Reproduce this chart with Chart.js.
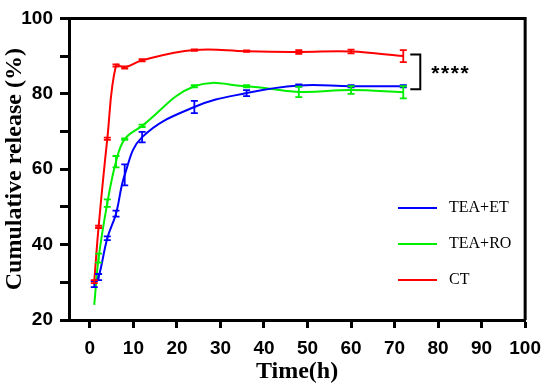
<!DOCTYPE html>
<html>
<head>
<meta charset="utf-8">
<script src="https://cdn.jsdelivr.net/npm/chart.js@4/dist/chart.umd.min.js"></script>
<style>
  html, body { margin: 0; padding: 0; background: #fff; }
</style>
</head>
<body>
<canvas id="releaseChart" width="550" height="386"></canvas>
<script>
const timePoints = [1, 2, 4, 6, 8, 12, 24, 36, 48, 60, 72];

const etRelease = [29.5, 31.4, 41.7, 48.2, 58.5, 68.5, 76.5, 80.2, 82.2, 82.0, 82.0];
const etError   = [0.8, 0.8, 0.5, 0.8, 2.8, 1.4, 1.6, 0.8, 0.3, 0.3, 0.3];

const roRelease = [24.0, 36.4, 51.0, 62.0, 68.0, 71.5, 82.0, 82.0, 80.5, 81.0, 80.4];
const roError   = [0, 1.2, 1.0, 1.5, 0.2, 0.3, 0.3, 0.3, 1.4, 1.0, 1.6];

const ctRelease = [30.2, 44.7, 68.1, 87.5, 87.0, 88.9, 91.6, 91.3, 91.1, 91.2, 90.0];
const ctError   = [0.4, 0.3, 0.3, 0.3, 0.3, 0.3, 0.2, 0.2, 0.5, 0.5, 1.6];

const xTickValues = [0, 10, 20, 30, 40, 50, 60, 70, 80, 90, 100];
const yTickValues = [20, 30, 40, 50, 60, 70, 80, 90, 100];

const tickFont = { family: "Arial, 'Liberation Sans'", size: 19, weight: "bold" };
const titleFont = { family: "'Liberation Serif', 'Times New Roman'", size: 24, weight: "bold" };

function toPoints(values) {
  return values.map((v, i) => ({ x: timePoints[i], y: v }));
}

function makeSeries(label, color, values, errors) {
  return {
    label: label,
    data: toPoints(values),
    errors: errors,
    borderColor: color,
    backgroundColor: color,
    borderWidth: 2,
    pointRadius: 0,
    tension: 0.4,
    fill: false
  };
}

// error bars, frame, legend and significance bracket
const extras = {
  id: "extras",
  afterDatasetsDraw(chart) {
    const ctx = chart.ctx;
    const area = chart.chartArea;
    const xs = chart.scales.x;
    const ys = chart.scales.y;

    chart.data.datasets.forEach(ds => {
      ctx.save();
      ctx.strokeStyle = ds.borderColor;
      ctx.lineWidth = 1.8;
      ds.data.forEach((p, i) => {
        const e = ds.errors[i];
        if (!e) return;
        const px = xs.getPixelForValue(p.x);
        const top = ys.getPixelForValue(p.y + e);
        const bot = ys.getPixelForValue(p.y - e);
        ctx.beginPath();
        ctx.moveTo(px, top); ctx.lineTo(px, bot);
        ctx.moveTo(px - 3.5, top); ctx.lineTo(px + 3.5, top);
        ctx.moveTo(px - 3.5, bot); ctx.lineTo(px + 3.5, bot);
        ctx.stroke();
      });
      ctx.restore();
    });

    // top and right frame
    ctx.save();
    ctx.strokeStyle = "#000";
    ctx.lineWidth = 3;
    ctx.beginPath();
    ctx.moveTo(area.left, area.top);
    ctx.lineTo(area.right, area.top);
    ctx.lineTo(area.right, area.bottom);
    ctx.stroke();
    ctx.restore();

    // legend
    ctx.save();
    ctx.font = "16px 'Liberation Serif', 'Times New Roman'";
    ctx.textBaseline = "middle";
    ctx.fillStyle = "#000";
    chart.data.datasets.forEach((ds, i) => {
      const ly = 208 + i * 36;
      ctx.strokeStyle = ds.borderColor;
      ctx.lineWidth = 2;
      ctx.beginPath();
      ctx.moveTo(398, ly); ctx.lineTo(437, ly);
      ctx.stroke();
      ctx.fillText(ds.label, 449, ly);
    });
    ctx.restore();

    // significance bracket
    const last = timePoints.length - 1;
    const bx = xs.getPixelForValue(timePoints[last]) + 7;
    const yTop = ys.getPixelForValue(ctRelease[last]) - 1.5;
    const yBot = ys.getPixelForValue((etRelease[last] + roRelease[last]) / 2);
    ctx.save();
    ctx.strokeStyle = "#000";
    ctx.lineWidth = 2;
    ctx.beginPath();
    ctx.moveTo(bx, yTop); ctx.lineTo(bx + 10, yTop);
    ctx.lineTo(bx + 10, yBot); ctx.lineTo(bx, yBot);
    ctx.stroke();
    ctx.fillStyle = "#000";
    ctx.font = "bold 21px Arial, 'Liberation Sans'";
    ctx.textBaseline = "middle";
    for (let k = 0; k < 4; k++) {
      ctx.fillText("*", bx + 21 + k * 9.7, (yTop + yBot) / 2 + 2);
    }
    ctx.restore();
  }
};

new Chart(document.getElementById("releaseChart"), {
  type: "line",
  data: {
    datasets: [
      makeSeries("TEA+ET", "#0000ff", etRelease, etError),
      makeSeries("TEA+RO", "#00ee00", roRelease, roError),
      makeSeries("CT", "#ff0000", ctRelease, ctError)
    ]
  },
  options: {
    responsive: false,
    animation: false,
    devicePixelRatio: 1,
    layout: { padding: { top: 15, right: 22, left: 0, bottom: 0 } },
    plugins: { legend: { display: false }, tooltip: { enabled: false } },
    scales: {
      x: {
        type: "linear",
        min: -4.8,
        max: 100,
        afterBuildTicks: s => { s.ticks = xTickValues.map(v => ({ value: v })); },
        afterFit: s => { s.height = 66; },
        ticks: { font: tickFont, color: "#000", padding: 9, maxRotation: 0, autoSkip: false },
        grid: { drawOnChartArea: false, drawTicks: true, tickLength: 8, tickWidth: 3, tickColor: "#000" },
        border: { color: "#000", width: 3 },
        title: { display: true, text: "Time(h)", font: titleFont, color: "#000", padding: 0 }
      },
      y: {
        min: 20,
        max: 100,
        afterBuildTicks: s => { s.ticks = yTickValues.map(v => ({ value: v })); },
        afterFit: s => { s.width = 69; },
        ticks: {
          font: tickFont, color: "#000", padding: 7, autoSkip: false,
          callback: v => (v % 20 === 0 ? v : "")
        },
        grid: { drawOnChartArea: false, drawTicks: true, tickLength: 9, tickWidth: 3, tickColor: "#000" },
        border: { color: "#000", width: 3 },
        title: { display: true, text: "Cumulative release (%)", font: titleFont, color: "#000", padding: 0 }
      }
    }
  },
  plugins: [extras]
});
</script>
</body>
</html>
